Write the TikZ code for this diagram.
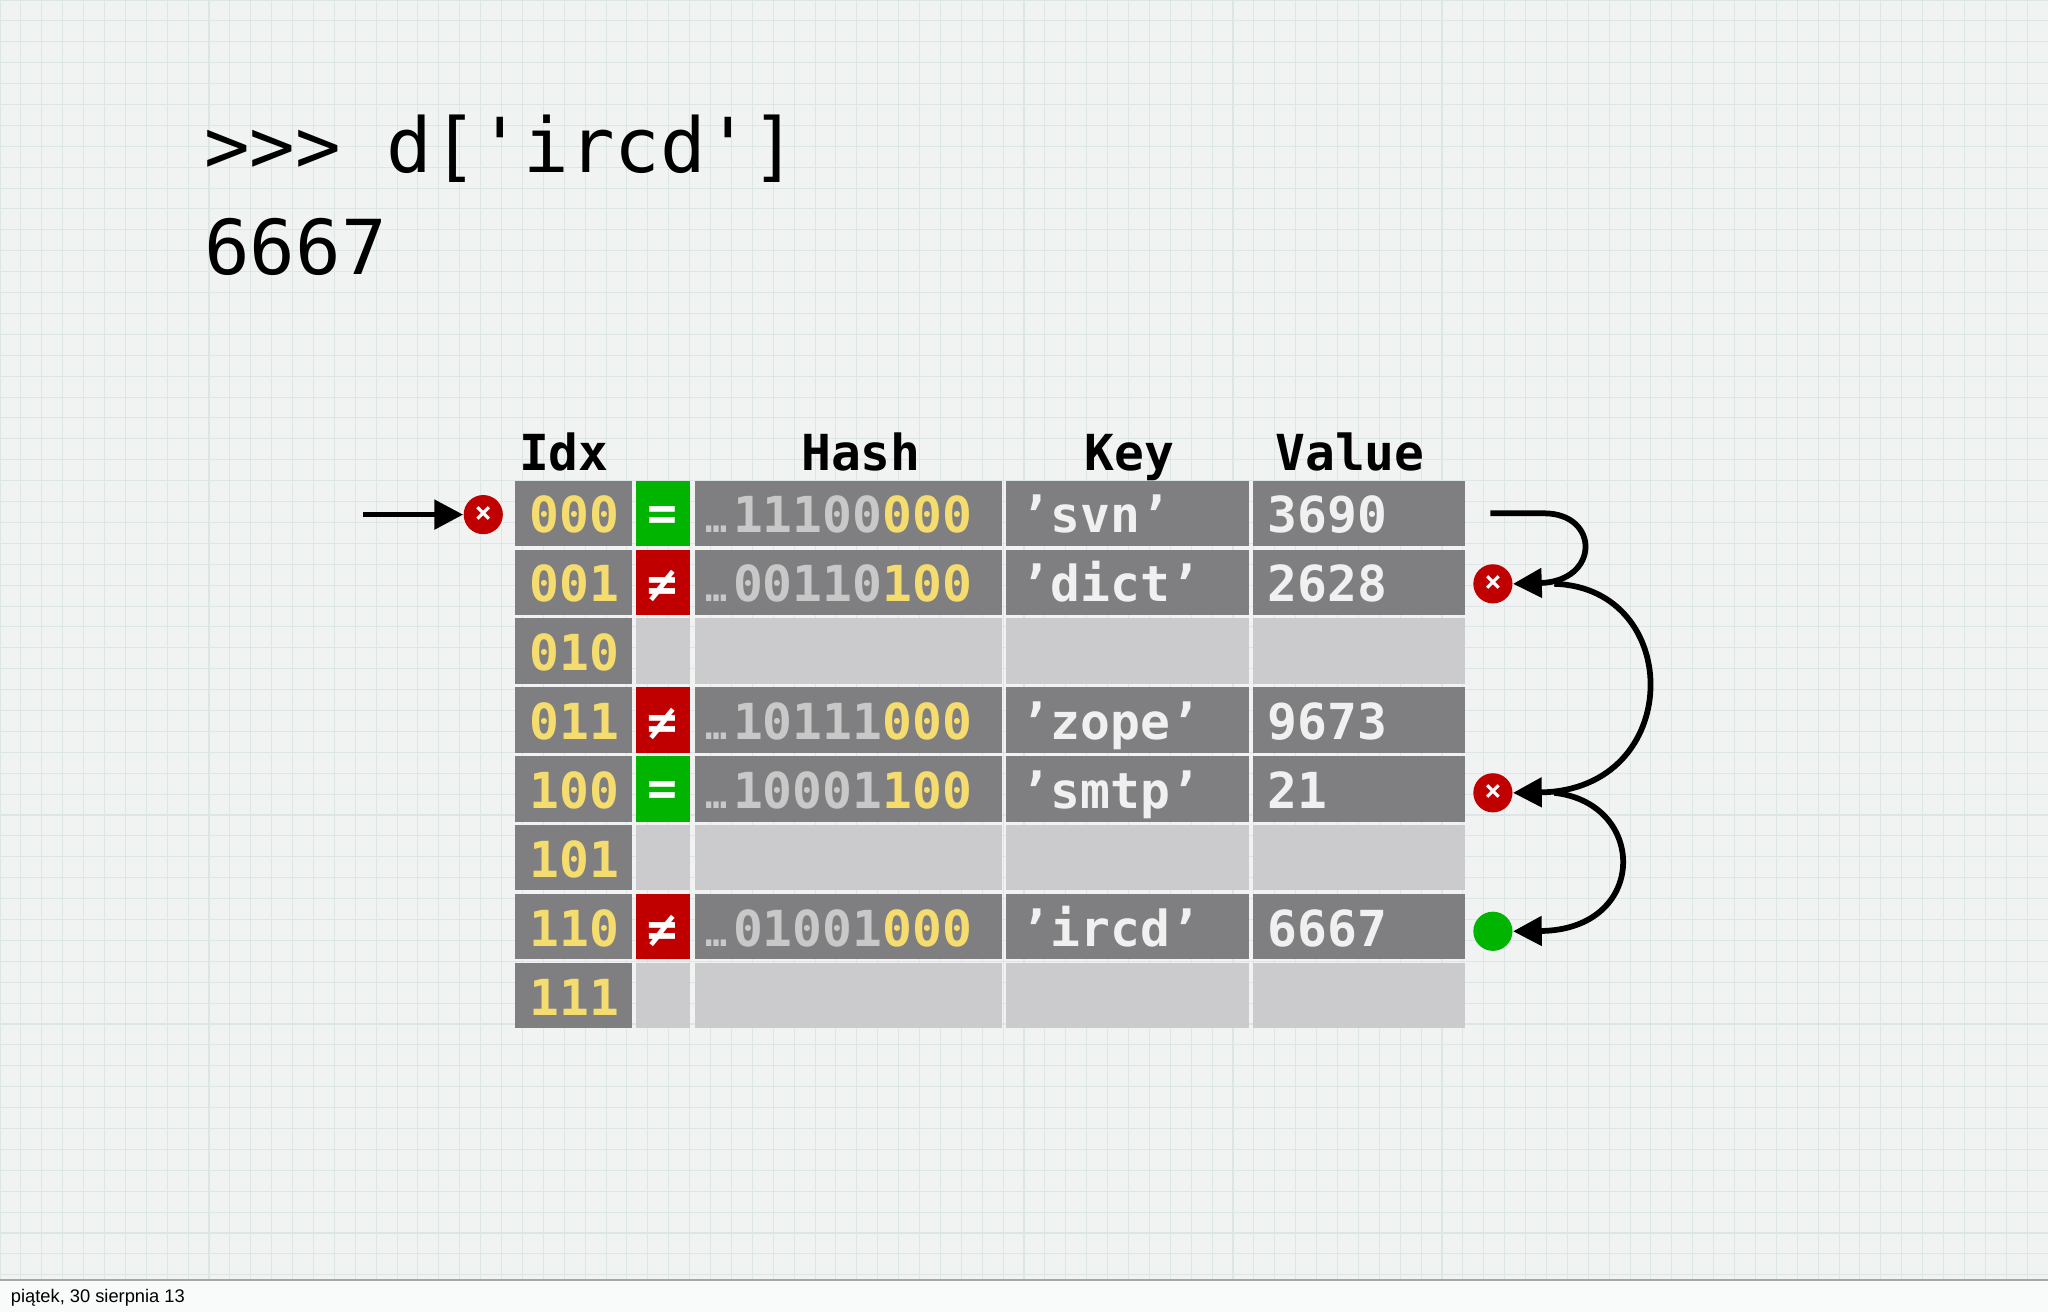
\documentclass[tikz,border=0pt]{standalone}
\usepackage{fontspec}
\setmainfont{DejaVu Sans Mono}[Ligatures=TeXOff]
\newfontfamily\footfont{Liberation Sans}
\usetikzlibrary{arrows.meta}
\definecolor{bgc}{HTML}{F1F3F3}
\definecolor{gridc}{HTML}{DCE6E6}
\definecolor{dark}{HTML}{7F7E80}
\definecolor{light}{HTML}{CBCACC}
\definecolor{okg}{HTML}{00B400}
\definecolor{badr}{HTML}{C00000}
\definecolor{yel}{HTML}{F5DC6E}
\definecolor{hgray}{HTML}{C8C8C8}
\tikzset{
 cell/.style={draw=none,inner sep=0,anchor=north west},
 txt/.style={anchor=base west,inner sep=0,font=\fontsize{19pt}{19pt}\selectfont\bfseries},
 hdr/.style={anchor=base west,inner sep=0,font=\fontsize{19pt}{19pt}\selectfont\bfseries},
 xmark/.style={circle,fill=badr,minimum size=15pt,inner sep=0,text=white,font=\fontsize{11pt}{11pt}\selectfont\bfseries},
 okmark/.style={circle,fill=okg,minimum size=15pt,inner sep=0},
 arr/.style={line width=2.2pt,-{Triangle[length=11pt,width=11pt]}},
}
\begin{document}
\begin{tikzpicture}[x=0.5pt,y=-0.5pt]
\useasboundingbox (0,0) rectangle (1568,1004.5);
\fill[bgc] (0,0) rectangle (1568,1004.5);
\foreach \i in {0,16,...,1568} \draw[gridc,line width=0.4pt] (\i,0) -- (\i,980);
\foreach \j in {0,16,...,976} \draw[gridc,line width=0.4pt] (0,\j) -- (1568,\j);
\fill[white!60!bgc] (0,980) rectangle (1568,1004.5);
\draw[gray!70,line width=0.8pt] (0,980) -- (1568,980);
\node[anchor=base west,inner sep=0,font=\footfont\fontsize{7pt}{7pt}\selectfont] (foot) at (8,997) {piątek, 30 sierpnia 13};
% title
\node[anchor=base west,inner sep=0,font=\fontsize{29pt}{29pt}\selectfont] (t1) at (156,132) {>>> d['ircd']};
\node[anchor=base west,inner sep=0,font=\fontsize{29pt}{29pt}\selectfont] (t2) at (156,210) {6667};
% headers
\node[hdr] (h1) at (397,360) {Idx};
\node[hdr] (h2) at (613,360) {Hash};
\node[hdr] (h3) at (830,360) {Key};
\node[hdr] (h4) at (976,360) {Value};
\foreach \r/\idx/\eq/\fl in {0/000/okg/dark,1/001/badr/dark,2/010/light/light,3/011/badr/dark,4/100/okg/dark,5/101/light/light,6/110/badr/dark,7/111/light/light}{
  \pgfmathsetmacro\top{368+\r*52.75}
  \pgfmathsetmacro\bot{\top+50}
  \fill[dark] (394,\top) rectangle (484,\bot);
  \fill[\eq] (487,\top) rectangle (528,\bot);
  \fill[\fl] (532,\top) rectangle (767,\bot);
  \fill[\fl] (770,\top) rectangle (956,\bot);
  \fill[\fl] (959,\top) rectangle (1122,\bot);
  \node[txt,text=yel] (i\r) at (405,\top+40) {\idx};
}
\foreach \r/\s in {0/=,4/=}{\pgfmathsetmacro\top{368+\r*52.75}\node[txt,text=white,anchor=base] (e\r) at (507.5,\top+38) {\s};}
\foreach \r in {1,3,6}{\pgfmathsetmacro\top{368+\r*52.75}\node[txt,text=white,anchor=base] (e\r) at (507.5,\top+40) {≠};}
\foreach \r/\g/\y/\k/\v in {0/11100/000/svn/3690,1/00110/100/dict/2628,3/10111/000/zope/9673,4/10001/100/smtp/21,6/01001/000/ircd/6667}{
  \pgfmathsetmacro\top{368+\r*52.75}
  \node[txt] (hs\r) at (540,\top+40) {\textcolor{hgray}{\fontsize{14pt}{14pt}\selectfont …}\hspace{2pt}\textcolor{hgray}{\g}\textcolor{yel}{\y}};
  \node[txt,text=white!94!black] (k\r) at (781,\top+40) {’\k’};
  \node[txt,text=white!94!black] (v\r) at (970,\top+40) {\v};
}
\node[xmark] (m0) at (370,394) {×};
\node[xmark] (m1) at (1143,447) {×};
\node[xmark] (m4) at (1143,607) {×};
\node[okmark] (m6) at (1143,713) {};
\coordinate (a0) at (278,394);
\draw[arr] (a0) -- (m0.west);
\coordinate (s0) at (1141,393);
\draw[arr] (s0) -- (1182,393) .. controls (1225,393) and (1225,445) .. (m1.east);
\draw[arr] (1190,447) .. controls (1290,450) and (1290,605) .. (m4.east);
\draw[arr] (1190,607) .. controls (1262,615) and (1262,712) .. (m6.east);
\end{tikzpicture}
\end{document}
